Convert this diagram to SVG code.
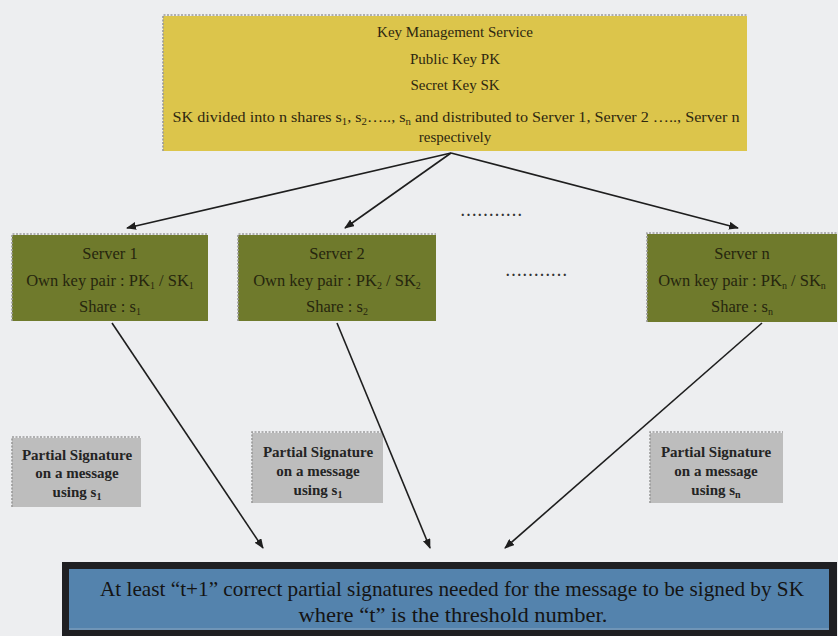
<svg xmlns="http://www.w3.org/2000/svg" width="838" height="636" viewBox="0 0 838 636">
  <defs>
    <marker id="arrow" markerWidth="10" markerHeight="8" refX="9" refY="4" orient="auto" markerUnits="userSpaceOnUse">
      <path d="M0,0 L10,4 L0,8 z" fill="#1e1e1e"/>
    </marker>
    <style>
      .bg { fill: #edeef0; }
      .kms { fill: #dcc54b; }
      .srv { fill: #6f7a2c; }
      .sig { fill: #bdbdbd; }
      .fray { fill: none; stroke: #9a9a9a; stroke-width: 1.6; stroke-dasharray: 2 1.5; }
      .t { font-family: "Liberation Serif", "Times New Roman", serif; text-anchor: middle; }
      .tk { font-size: 15px; fill: #2e2710; }
      .ts { font-size: 16.5px; fill: #26260e; }
      .tp { font-size: 15px; font-weight: bold; fill: #242424; }
      .tb { font-size: 21px; fill: #141414; }
      .sub { font-size: 10px; }
      .conn { stroke: #1e1e1e; stroke-width: 1.6; fill: none; marker-end: url(#arrow); }
      .dots { font-family: "Liberation Serif", serif; font-size: 14px; fill: #333; font-weight: bold; letter-spacing: 2.2px; }
    </style>
  </defs>

  <rect class="bg" x="0" y="0" width="838" height="636"/>

  <!-- Key Management Service -->
  <g id="kms">
    <rect class="kms" x="163" y="16" width="584" height="135"/>
    <path class="fray" d="M163,151 L163,15 L747,15"/>
    <text class="t tk" x="455" y="37">Key Management Service</text>
    <text class="t tk" x="455" y="64">Public Key PK</text>
    <text class="t tk" x="455" y="90">Secret Key SK</text>
    <text class="t tk" x="456" y="122" textLength="567" lengthAdjust="spacingAndGlyphs">SK divided into n shares s<tspan class="sub" dy="3">1</tspan><tspan dy="-3">, s</tspan><tspan class="sub" dy="3">2</tspan><tspan dy="-3">….., s</tspan><tspan class="sub" dy="3">n</tspan><tspan dy="-3"> and distributed to Server 1, Server 2 ….., Server n</tspan></text>
    <text class="t tk" x="455" y="142">respectively</text>
  </g>

  <!-- Servers -->
  <g id="server1">
    <rect class="srv" x="12" y="235" width="196" height="86"/>
    <path class="fray" d="M12,321 L12,234 L208,234"/>
    <text class="t ts" x="110" y="259">Server 1</text>
    <text class="t ts" x="110" y="286">Own key pair : PK<tspan class="sub" dy="3">1</tspan><tspan dy="-3"> / SK</tspan><tspan class="sub" dy="3">1</tspan></text>
    <text class="t ts" x="110" y="312">Share : s<tspan class="sub" dy="3">1</tspan></text>
  </g>

  <g id="server2">
    <rect class="srv" x="238" y="235" width="198" height="86"/>
    <path class="fray" d="M238,321 L238,234 L436,234"/>
    <text class="t ts" x="337" y="259">Server 2</text>
    <text class="t ts" x="337" y="286">Own key pair : PK<tspan class="sub" dy="3">2</tspan><tspan dy="-3"> / SK</tspan><tspan class="sub" dy="3">2</tspan></text>
    <text class="t ts" x="337" y="312">Share : s<tspan class="sub" dy="3">2</tspan></text>
  </g>

  <g id="servern">
    <rect class="srv" x="647" y="234" width="190" height="88"/>
    <path class="fray" d="M647,322 L647,233 L837,233"/>
    <text class="t ts" x="742" y="259">Server n</text>
    <text class="t ts" x="742" y="286">Own key pair : PK<tspan class="sub" dy="3">n</tspan><tspan dy="-3"> / SK</tspan><tspan class="sub" dy="3">n</tspan></text>
    <text class="t ts" x="742" y="312">Share : s<tspan class="sub" dy="3">n</tspan></text>
  </g>

  <!-- Ellipses between servers -->
  <g id="ellipsis">
    <text class="dots" x="461" y="216">...........</text>
    <text class="dots" x="506" y="276">...........</text>
  </g>

  <!-- Partial signatures -->
  <g id="partial1">
    <rect class="sig" x="12" y="438" width="129" height="69"/>
    <path class="fray" d="M12,507 L12,437 L141,437"/>
    <text class="t tp" x="77" y="460">Partial Signature</text>
    <text class="t tp" x="77" y="478">on a message</text>
    <text class="t tp" x="77" y="497">using s<tspan class="sub" dy="3">1</tspan></text>
  </g>

  <g id="partial2">
    <rect class="sig" x="252" y="433" width="131" height="70"/>
    <path class="fray" d="M252,503 L252,432 L383,432"/>
    <text class="t tp" x="318" y="457">Partial Signature</text>
    <text class="t tp" x="318" y="476">on a message</text>
    <text class="t tp" x="318" y="495">using s<tspan class="sub" dy="3">1</tspan></text>
  </g>

  <g id="partialn">
    <rect class="sig" x="650" y="433" width="133" height="70"/>
    <path class="fray" d="M650,503 L650,432 L783,432"/>
    <text class="t tp" x="716" y="457">Partial Signature</text>
    <text class="t tp" x="716" y="476">on a message</text>
    <text class="t tp" x="716" y="495">using s<tspan class="sub" dy="3">n</tspan></text>
  </g>

  <!-- Threshold result -->
  <g id="threshold">
    <rect x="62" y="562" width="775" height="74" fill="#1f1f22"/>
    <rect x="69" y="569" width="760" height="61" fill="#5483ad"/>
    <line x1="69" y1="629" x2="829" y2="629" stroke="#8aa6c0" stroke-width="1"/>
    <text class="t tb" x="452" y="596" textLength="704" lengthAdjust="spacingAndGlyphs">At least “t+1” correct partial signatures needed for the message to be signed by SK</text>
    <text class="t tb" x="453" y="622" textLength="309" lengthAdjust="spacingAndGlyphs">where “t” is the threshold number.</text>
  </g>

  <!-- Connectors -->
  <g id="connectors">
    <line class="conn" x1="451" y1="153" x2="127" y2="228"/>
    <line class="conn" x1="451" y1="153" x2="345" y2="228"/>
    <line class="conn" x1="451" y1="153" x2="738" y2="228"/>
    <line class="conn" x1="112" y1="323" x2="263" y2="548"/>
    <line class="conn" x1="337" y1="323" x2="430" y2="548"/>
    <line class="conn" x1="762" y1="323" x2="505" y2="548"/>
  </g>
</svg>
